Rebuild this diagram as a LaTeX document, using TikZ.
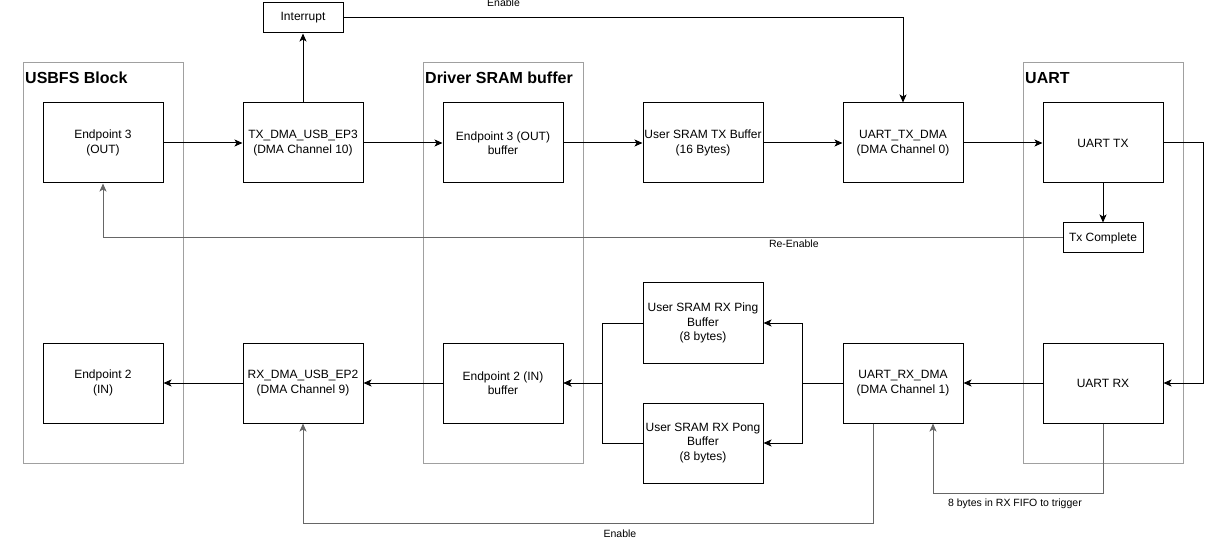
\documentclass[tikz,border=0pt]{standalone}
\usepackage{fontspec}
\setmainfont{Liberation Sans}
\usetikzlibrary{arrows.meta}
\definecolor{grp}{HTML}{A0A0A0}
\definecolor{gln}{HTML}{666666}
\tikzset{
 box/.style={draw=black, line width=1pt, minimum width=120pt, minimum height=80pt, inner sep=0pt, align=center, font=\fontsize{12}{14.5}\selectfont},
 sbox/.style={draw=black, line width=1pt, minimum width=80pt, minimum height=30pt, inner sep=0pt, font=\fontsize{12}{14.5}\selectfont},
 grpbox/.style={draw=grp, line width=1pt, minimum width=160pt, minimum height=400pt, inner sep=0pt},
 grptitle/.style={font=\bfseries\fontsize{16}{18}\selectfont, anchor=west, inner sep=0pt},
 conn/.style={line width=1pt, -{Stealth[length=8pt,width=7pt,inset=2pt]}},
 gconn/.style={conn, draw=gln},
 lbl/.style={font=\fontsize{10.5}{12}\selectfont, inner sep=1pt, text=black}
}
\begin{document}
\begin{tikzpicture}[x=1pt,y=-1pt]
\useasboundingbox[fill=white] (0,0) rectangle (1208,540);
% groups
\node[grpbox] (usbfs) at (103,263) {};
\node[grptitle] (usbfst) at (25,78) {USBFS Block};
\node[grpbox] (drv) at (503,263) {};
\node[grptitle] (drvt) at (425,78) {Driver SRAM buffer};
\node[grpbox] (uart) at (1103,263) {};
\node[grptitle] (uartt) at (1025,78) {UART};
% top row
\node[box] (ep3) at (103,143) {Endpoint 3\\(OUT)};
\node[box] (txdma) at (303,143) {TX\_DMA\_USB\_EP3\\(DMA Channel 10)};
\node[box] (ep3buf) at (503,143) {Endpoint 3 (OUT)\\buffer};
\node[box] (utx) at (703,143) {User SRAM TX Buffer\\(16 Bytes)};
\node[box] (uatxdma) at (903,143) {UART\_TX\_DMA\\(DMA Channel 0)};
\node[box] (uarttx) at (1103,143) {UART TX};
% bottom row
\node[box] (ep2) at (103,383) {Endpoint 2\\(IN)};
\node[box] (rxdma) at (303,383) {RX\_DMA\_USB\_EP2\\(DMA Channel 9)};
\node[box] (ep2buf) at (503,383) {Endpoint 2 (IN)\\buffer};
\node[box] (ping) at (703,323) {User SRAM RX Ping\\Buffer\\(8 bytes)};
\node[box] (pong) at (703,443) {User SRAM RX Pong\\Buffer\\(8 bytes)};
\node[box] (uarxdma) at (903,383) {UART\_RX\_DMA\\(DMA Channel 1)};
\node[box] (uartrx) at (1103,383) {UART RX};
% small
\node[sbox] (intr) at (303,18) {Interrupt};
\node[sbox] (txc) at (1103,238) {Tx Complete};
% connectors top
\draw[conn] (ep3) -- (txdma);
\draw[conn] (txdma) -- (ep3buf);
\draw[conn] (ep3buf) -- (utx);
\draw[conn] (utx) -- (uatxdma);
\draw[conn] (uatxdma) -- (uarttx);
\draw[conn] (txdma) -- (intr);
\draw[conn] (intr.east) -| (uatxdma.north) node[lbl, pos=0.143, yshift=15pt] {Enable};
\draw[conn] (uarttx) -- (txc);
\draw[gconn] (txc.west) -| (ep3.south) node[lbl, pos=0.14, yshift=-6pt] {Re-Enable};
\draw[conn] (uarttx.east) -- ++(40,0) |- (uartrx.east);
% bottom
\draw[conn] (uartrx) -- (uarxdma);
\draw[conn] (uarxdma.west) -- ++(-40,0) |- (ping.east);
\draw[conn] (uarxdma.west) -- ++(-40,0) |- (pong.east);
\draw[conn] (ping.west) -- ++(-40,0) |- (ep2buf.east);
\draw[conn] (pong.west) -- ++(-40,0) |- (ep2buf.east);
\draw[conn] (ep2buf) -- (rxdma);
\draw[conn] (rxdma) -- (ep2);
\draw[gconn] ([xshift=-30pt]uarxdma.south) -- ++(0,100) -| (rxdma.south) node[lbl, pos=0.222, yshift=-10pt] {Enable};
\draw[gconn] (uartrx.south) -- ++(0,70) -| ([xshift=30pt]uarxdma.south) node[lbl, pos=0.259, yshift=-10pt] {8 bytes in RX FIFO to trigger};
\end{tikzpicture}
\end{document}
